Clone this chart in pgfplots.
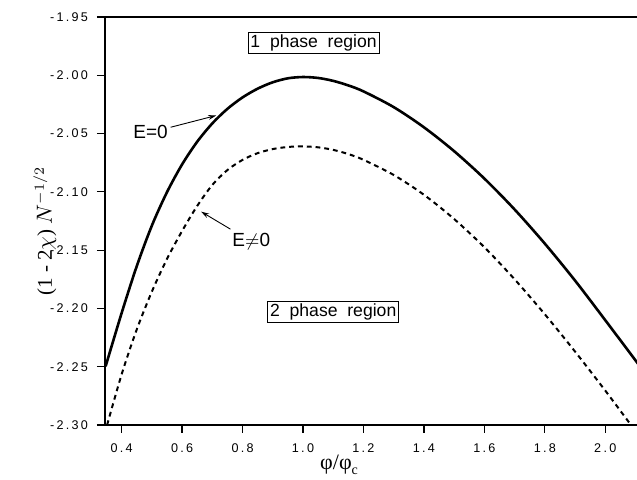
\documentclass[border=0pt]{standalone}
\usepackage{fontspec}
\setmainfont{Liberation Serif}
\newfontfamily\tickfont[LetterSpace=18]{Liberation Sans}
\newfontfamily\labfont{Liberation Sans}
\usepackage{pgfplots}
\pgfplotsset{compat=1.18}
\usetikzlibrary{arrows.meta}
\begin{document}
\begin{tikzpicture}
  \useasboundingbox (-52.5pt,-27.5pt) rectangle (266pt,212.5pt);
  \begin{axis}[
      at={(0,0)}, anchor=south west,
      scale only axis,
      width=266pt, height=204pt,
      xmin=0.345, xmax=2.105,
      ymin=-2.30, ymax=-1.95,
      enlargelimits=false,
      axis lines*=left,
      axis line style={line width=0.7pt},
      tick align=outside,
      major tick length=4pt,
      tick style={line width=0.6pt, black},
      xtick={0.4,0.6,...,2.0},
      xticklabels={0.4,0.6,0.8,1.0,1.2,1.4,1.6,1.8,2.0},
      ytick={-2.30,-2.25,-2.20,-2.15,-2.10,-2.05,-2.00,-1.95},
      yticklabels={-2.30,-2.25,-2.20,-2.15,-2.10,-2.05,-2.00,-1.95},
      xticklabel style={font=\tickfont\fontsize{6.3}{7}\selectfont, yshift=-2pt},
      yticklabel style={font=\tickfont\fontsize{6.3}{7}\selectfont, xshift=-1pt},
      xlabel={φ/φ\raisebox{-0.45ex}{\fontsize{7}{8}\selectfont c}},
      xlabel style={at={(axis description cs:0.44,0)}, anchor=north, inner sep=0pt, yshift=-15pt, font=\fontsize{11}{12}\selectfont},
      ylabel={(1 - 2$\chi$) $N^{-1/2}$},
      ylabel style={at={(axis description cs:-0.113,0.475)}, anchor=center, font=\fontsize{10.5}{12}\selectfont},
      clip=true,
    ]
    % E = 0
    \addplot[black, line width=1.3pt, smooth] coordinates {
      (0.347,-2.2497) (0.40,-2.2040) (0.45,-2.1638) (0.50,-2.1290)
      (0.55,-2.1003) (0.60,-2.0765) (0.65,-2.0570) (0.70,-2.0413)
      (0.75,-2.0288) (0.80,-2.0190) (0.85,-2.0115) (0.90,-2.0060)
      (0.95,-2.0026) (1.00,-2.0015) (1.05,-2.0023) (1.10,-2.0048)
      (1.15,-2.0087) (1.20,-2.0138)
      (1.30,-2.0273) (1.40,-2.0446) (1.50,-2.0651) (1.60,-2.0886)
      (1.70,-2.1151) (1.80,-2.1444) (1.90,-2.1761) (2.00,-2.2101)
      (2.11,-2.2480)
    };
    % E != 0
    \addplot[black, line width=1pt, dash pattern=on 2.4pt off 2pt, smooth] coordinates {
      (0.352,-2.3000) (0.40,-2.2566) (0.45,-2.2181) (0.50,-2.1856)
      (0.55,-2.1576) (0.60,-2.1336) (0.65,-2.1121) (0.70,-2.0941)
      (0.75,-2.0813) (0.80,-2.0726) (0.85,-2.0668) (0.90,-2.0633)
      (0.95,-2.0615) (1.00,-2.0610) (1.05,-2.0618) (1.10,-2.0640)
      (1.15,-2.0676) (1.20,-2.0725)
      (1.30,-2.0855) (1.40,-2.1025) (1.50,-2.1233) (1.60,-2.1475)
      (1.70,-2.1750) (1.80,-2.2050) (1.90,-2.2370) (2.00,-2.2705)
      (2.085,-2.3000)
    };
    \draw[line width=0.7pt] (rel axis cs:0,1) -- (rel axis cs:1,1);
    \node[draw, line width=0.5pt, inner sep=1.2pt, font=\labfont\fontsize{8.8}{10}\selectfont]
      at (axis cs:1.035,-1.972) {1\ \ phase\ \ region};
    \node[draw, line width=0.5pt, inner sep=1.2pt, font=\labfont\fontsize{8.8}{10}\selectfont]
      at (axis cs:1.10,-2.203) {2\ \ phase\ \ region};
    \node[font=\labfont\fontsize{9.5}{11}\selectfont, anchor=east, inner sep=0.5pt] at (axis cs:0.557,-2.0487) {E=0};
    \draw[-{Stealth[length=4pt,width=2.4pt]}, line width=0.45pt] (axis cs:0.562,-2.0446) -- (axis cs:0.713,-2.0345);
    \node[font=\labfont\fontsize{9.5}{11}\selectfont, anchor=west, inner sep=0.5pt] at (axis cs:0.762,-2.143) {E$\neq$0};
    \draw[-{Stealth[length=4pt,width=2.4pt]}, line width=0.45pt] (axis cs:0.760,-2.132) -- (axis cs:0.663,-2.117);
  \end{axis}
\end{tikzpicture}
\end{document}
